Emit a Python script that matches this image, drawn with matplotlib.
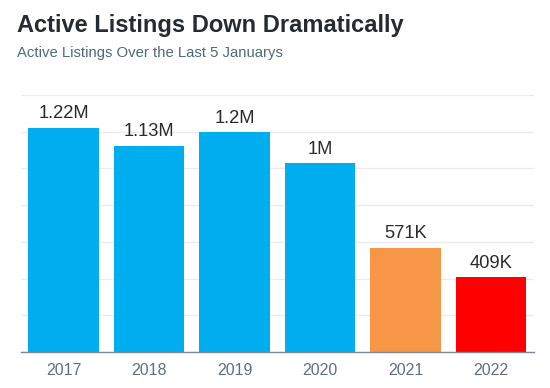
import matplotlib
matplotlib.use("Agg")
import matplotlib.pyplot as plt

# Data
years = ["2017", "2018", "2019", "2020", "2021", "2022"]
listings_m = [1.22, 1.124, 1.197, 1.028, 0.568, 0.407]
value_labels = ["1.22M", "1.13M", "1.2M", "1M", "571K", "409K"]
bar_colors = ["#00adef", "#00adef", "#00adef", "#00adef", "#f79646", "#ff0000"]

plt.rcParams["font.family"] = ["Liberation Sans", "DejaVu Sans"]

fig = plt.figure(figsize=(5.5, 3.88), dpi=100)
ax = fig.add_axes([20.75 / 550, 36 / 388, 513 / 550, 257 / 388])

x = range(len(years))
bars = ax.bar(x, listings_m, width=0.83, color=bar_colors, zorder=2)

for b, lab in zip(bars, value_labels):
    ax.annotate(lab, (b.get_x() + b.get_width() / 2, b.get_height()),
                xytext=(0, 4), textcoords="offset points",
                ha="center", va="bottom", fontsize=13.2, color="#2b2b2b")

ax.set_xlim(-0.5, len(years) - 0.5)
ax.set_ylim(0, 1.4)
ax.set_yticks([0.2 * i for i in range(8)])
ax.set_yticklabels([])
ax.tick_params(axis="y", length=0)
ax.grid(axis="y", color="#ebebeb", linewidth=1, zorder=0)

ax.set_xticks(list(x))
ax.set_xticklabels(years, fontsize=11.5, color="#5f6f80")
ax.tick_params(axis="x", length=0, pad=8)

for s in ["top", "right", "left"]:
    ax.spines[s].set_visible(False)
ax.spines["bottom"].set_color("#7d8893")
ax.spines["bottom"].set_linewidth(1)
ax.spines["bottom"].set_zorder(3)

fig.text(17 / 550, 1 - 32 / 388, "Active Listings Down Dramatically",
         fontsize=17, fontweight="bold", color="#252a33", va="baseline")
fig.text(17 / 550, 1 - 57.5 / 388, "Active Listings Over the Last 5 Januarys",
         fontsize=10.7, color="#4e6b78", va="baseline")

fig.savefig("out.png", dpi=100)
